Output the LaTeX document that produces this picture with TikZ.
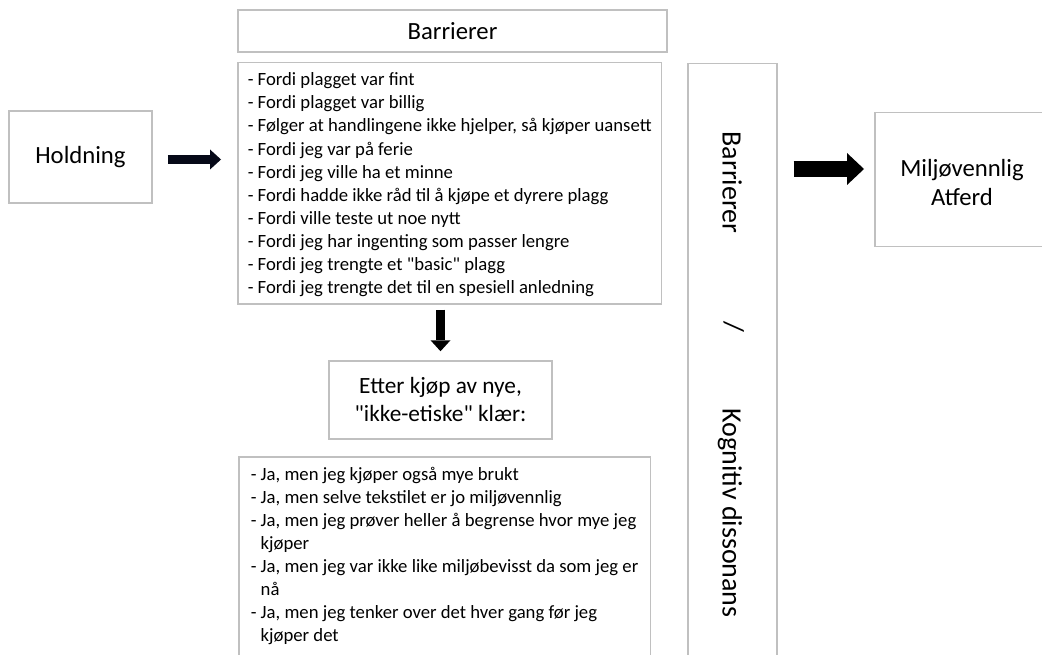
\documentclass[tikz,border=0pt]{standalone}
\usepackage{fontspec}
\setmainfont{Carlito}[Ligatures=TeXOff]
\usetikzlibrary{arrows.meta,calc}

\definecolor{boxline}{RGB}{192,192,192}
\definecolor{navyink}{RGB}{6,9,24}

% one line of a bullet list, kept on a single row
\newcommand{\listline}[1]{\hbox{#1}}
% straight double quote
\newcommand{\dq}{\char34\relax}

\tikzset{
  panel/.style={draw=boxline, line width=1.5pt, inner sep=0pt, text=black, fill=white},
  titlefont/.style={font=\fontsize{24.7pt}{29pt}\selectfont},
  listfont/.style={font=\fontsize{18.7pt}{23.1pt}\selectfont},
  sidefont/.style={font=\fontsize{28pt}{33pt}\selectfont, rotate=-90,
                   text height=19pt, text depth=6pt, inner sep=0pt},
  smallarrow/.style={line width=9pt, draw=navyink,
                     -{Triangle[length=11pt,width=20pt,line width=0pt]}},
  bigarrow/.style={line width=16pt, draw=black,
                   -{Triangle[length=17pt,width=32pt,line width=0pt]}}
}

\begin{document}
\begin{tikzpicture}[x=1pt,y=-1pt]
\useasboundingbox (0,0) rectangle (1042,655);
\clip (0,0) rectangle (1042,655);
\fill[white] (0,0) rectangle (1042,655);

% attitude
\node[panel, titlefont, minimum width=143pt, minimum height=92pt] (hold) at (80.5,157) {Holdning};

% barriers heading and list of reasons
\node[panel, titlefont, minimum width=429pt, minimum height=42pt] (head) at (452.5,31) {Barrierer};
\node[panel, listfont, anchor=north west, inner xsep=10pt, inner ysep=10pt] (reasons) at (237,62)
  {\parbox[t][221pt][t]{410pt}{%
    \listline{- Fordi plagget var fint}%
    \listline{- Fordi plagget var billig}%
    \listline{- Følger at handlingene ikke hjelper, så kjøper uansett}%
    \listline{- Fordi jeg var på ferie}%
    \listline{- Fordi jeg ville ha et minne}%
    \listline{- Fordi hadde ikke råd til å kjøpe et dyrere plagg}%
    \listline{- Fordi ville teste ut noe nytt}%
    \listline{- Fordi jeg har ingenting som passer lengre}%
    \listline{- Fordi jeg trengte et \dq basic\dq\ plagg}%
    \listline{- Fordi jeg trengte det til en spesiell anledning}}};

% after buying
\node[panel, align=center, minimum width=223pt, minimum height=78pt,
      font=\fontsize{23.3pt}{28pt}\selectfont] (after) at (440.5,400)
  {Etter kjøp av nye,\\\dq ikke-etiske\dq\ klær:};

\node[panel, listfont, anchor=north west, inner xsep=12pt, inner ysep=10pt] (excuses) at (238,456)
  {\parbox[t][232pt][t]{395pt}{%
    \listline{- Ja, men jeg kjøper også mye brukt}%
    \listline{- Ja, men selve tekstilet er jo miljøvennlig}%
    \listline{- Ja, men jeg prøver heller å begrense hvor mye jeg}%
    \listline{\hphantom{- }kjøper}%
    \listline{- Ja, men jeg var ikke like miljøbevisst da som jeg er}%
    \listline{\hphantom{- }nå}%
    \listline{- Ja, men jeg tenker over det hver gang før jeg}%
    \listline{\hphantom{- }kjøper det}}};

% vertical column
\node[panel, anchor=north west, minimum width=89pt, minimum height=640pt] (dissonance) at (687,63) {};
\node[sidefont] (sideA) at (729,182.5) {Barrierer};
\node[sidefont] (sideB) at (731,327) {/};
\node[sidefont] (sideC) at (729,513) {Kognitiv dissonans};

% outcome (box runs past the right edge)
\node[panel, anchor=north west, minimum width=200pt, minimum height=134pt] (green) at (874,112) {};
\node[titlefont, align=center, inner sep=0pt] (greentext) at (962,183) {Miljøvennlig\\Atferd};

% arrows
\coordinate (holdrow) at (0,159.5);
\coordinate (greenrow) at (0,169);
\draw[smallarrow, shorten <=15pt, shorten >=16pt]
  (hold.east |- holdrow) -- (reasons.west |- holdrow);
\draw[smallarrow, draw=black, shorten <=5pt, shorten >=9pt]
  (after.north |- reasons.south) -- (after.north);
\draw[bigarrow, shorten <=16pt, shorten >=10pt]
  (dissonance.east |- greenrow) -- (green.west |- greenrow);
\end{tikzpicture}
\end{document}
